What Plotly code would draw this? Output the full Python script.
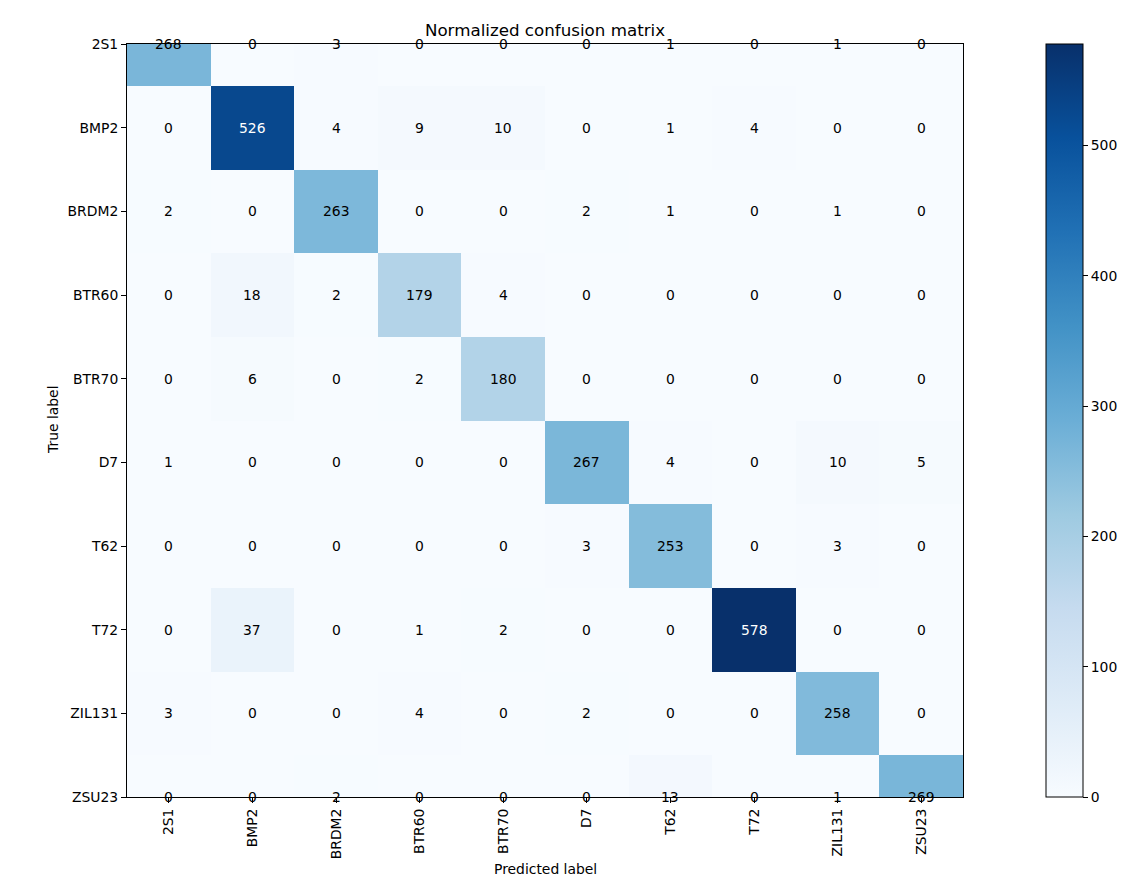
import plotly.graph_objects as go

classes = ["2S1", "BMP2", "BRDM2", "BTR60", "BTR70", "D7", "T62", "T72", "ZIL131", "ZSU23"]

row_2S1 = [268, 0, 3, 0, 0, 0, 1, 0, 1, 0]
row_BMP2 = [0, 526, 4, 9, 10, 0, 1, 4, 0, 0]
row_BRDM2 = [2, 0, 263, 0, 0, 2, 1, 0, 1, 0]
row_BTR60 = [0, 18, 2, 179, 4, 0, 0, 0, 0, 0]
row_BTR70 = [0, 6, 0, 2, 180, 0, 0, 0, 0, 0]
row_D7 = [1, 0, 0, 0, 0, 267, 4, 0, 10, 5]
row_T62 = [0, 0, 0, 0, 0, 3, 253, 0, 3, 0]
row_T72 = [0, 37, 0, 1, 2, 0, 0, 578, 0, 0]
row_ZIL131 = [3, 0, 0, 4, 0, 2, 0, 0, 258, 0]
row_ZSU23 = [0, 0, 2, 0, 0, 0, 13, 0, 1, 269]

matrix = [row_2S1, row_BMP2, row_BRDM2, row_BTR60, row_BTR70,
          row_D7, row_T62, row_T72, row_ZIL131, row_ZSU23]

colorbar_ticks = [0, 100, 200, 300, 400, 500]

blues = [
    [0.0, "#f7fbff"], [0.125, "#deebf7"], [0.25, "#c6dbef"], [0.375, "#9ecae1"],
    [0.5, "#6baed6"], [0.625, "#4292c6"], [0.75, "#2171b5"], [0.875, "#08519c"],
    [1.0, "#08306b"],
]

n = len(classes)
idx = list(range(n))
zmax = max(max(r) for r in matrix)
thresh = zmax / 2.0

FONT = "DejaVu Sans"

fig = go.Figure()
fig.add_trace(go.Heatmap(
    z=matrix, x=idx, y=idx, colorscale=blues, zmin=0, zmax=zmax,
    showscale=True, hoverinfo="z",
    colorbar=dict(
        x=(1046 - 127) / 836, xanchor="left", xref="paper",
        y=0, yanchor="bottom", yref="paper", len=1, lenmode="fraction",
        thickness=37, outlinecolor="black", outlinewidth=1,
        ticks="outside", ticklen=5, tickcolor="black", tickwidth=1,
        tickvals=colorbar_ticks, tickfont=dict(family=FONT, size=13.9, color="black"),
        xpad=0, ypad=0,
    ),
))

annotations = []
for i in range(n):
    for j in range(n):
        v = matrix[i][j]
        annotations.append(dict(
            x=j, y=i, xref="x", yref="y", text=str(v), showarrow=False,
            xanchor="center", yanchor="middle",
            font=dict(family=FONT, size=13.9, color="white" if v > thresh else "black"),
        ))

annotations.append(dict(
    x=(53 - 127) / 836, y=(797 - 420) / 753, xref="paper", yref="paper",
    text="True label", textangle=-90, showarrow=False,
    xanchor="center", yanchor="middle",
    font=dict(family=FONT, size=13.9, color="black"),
))
annotations.append(dict(
    x=0.5, y=(797 - 869) / 753, xref="paper", yref="paper",
    text="Predicted label", showarrow=False,
    xanchor="center", yanchor="middle",
    font=dict(family=FONT, size=13.9, color="black"),
))

fig.update_layout(
    width=1141, height=885,
    margin=dict(l=127, r=178, t=44, b=88),
    paper_bgcolor="white", plot_bgcolor="white",
    font=dict(family=FONT, color="black"),
    title=dict(
        text="Normalized confusion matrix", x=0.5, xref="paper", xanchor="center",
        y=(885 - 30) / 885, yref="container", yanchor="middle",
        font=dict(family=FONT, size=16.7, color="black"),
    ),
    annotations=annotations,
    xaxis=dict(
        range=[-0.5, n - 0.5], tickvals=idx, ticktext=classes, tickangle=-90,
        showline=True, mirror=True, linecolor="black", linewidth=1,
        ticks="outside", ticklen=5, tickcolor="black", tickwidth=1,
        showgrid=False, zeroline=False,
        tickfont=dict(family=FONT, size=13.9, color="black"),
    ),
    yaxis=dict(
        range=[n - 1, 0], tickvals=idx, ticktext=classes,
        showline=True, mirror=True, linecolor="black", linewidth=1,
        ticks="outside", ticklen=5, tickcolor="black", tickwidth=1,
        showgrid=False, zeroline=False,
        tickfont=dict(family=FONT, size=13.9, color="black"),
    ),
)

fig.write_html(
    "out.html",
    config={"displayModeBar": False},
    post_script="document.body.style.margin='0';document.body.style.overflow='hidden';",
)
